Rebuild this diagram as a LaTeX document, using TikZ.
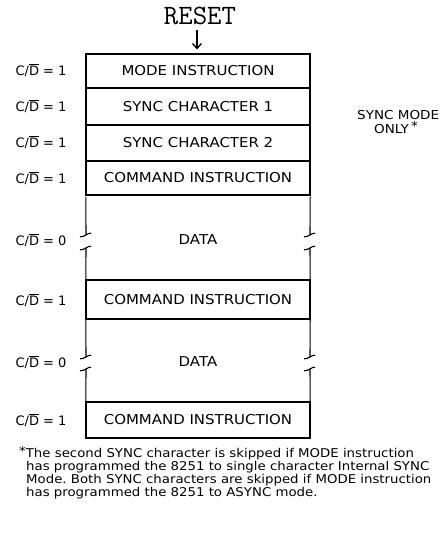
\documentclass[tikz,border=0pt]{standalone}
\usepackage{fontspec}
\setmainfont{DejaVu Sans}
\setsansfont{DejaVu Sans}
\newfontfamily\notefont{DejaVu Sans}[FakeStretch=1.1]
\newfontfamily\boxfont{DejaVu Sans}[FakeStretch=1.1]
\usetikzlibrary{arrows.meta}
\frenchspacing
\tikzset{
  rowbox/.style={draw, line width=1.1pt, minimum width=224pt, inner sep=0pt, font=\boxfont\fontsize{13.6}{14}\selectfont},
  databox/.style={minimum width=224pt, inner sep=0pt, font=\boxfont\fontsize{13.6}{14}\selectfont},
  cdlabel/.style={font=\fontsize{13}{14}\selectfont, inner sep=0pt},
  side/.style={line width=1.1pt},
  note/.style={font=\notefont\fontsize{12.1}{13}\selectfont, inner sep=0pt, anchor=base west},
  sidenote/.style={font=\boxfont\fontsize{12.3}{12}\selectfont, inner sep=0pt},
}
\newcommand\brktick[2]{\draw[side] (#1-6,#2+1.8) .. controls (#1-2,#2+2.5) and (#1+2,#2-2.5) .. (#1+5,#2-1.8);}
\begin{document}
\begin{tikzpicture}[x=1pt,y=-1pt]
\useasboundingbox (0,0) rectangle (442,535);
% RESET
\node[font=\ttfamily\fontsize{28}{30}\selectfont, inner sep=0pt] (reset) at (200,16) {RESET};
% rows
\node[rowbox, minimum height=34pt] (mode) at (198,71) {MODE INSTRUCTION};
\node[rowbox, minimum height=37pt] (s1) at (198,106.5) {SYNC CHARACTER 1};
\node[rowbox, minimum height=36pt] (s2) at (198,143) {SYNC CHARACTER 2};
\node[rowbox, minimum height=34pt] (c1) at (198,178) {COMMAND INSTRUCTION};
\node[databox, minimum height=85pt] (d1) at (198,239.5) {DATA};
\node[rowbox, minimum height=39pt] (c2) at (198,299.5) {COMMAND INSTRUCTION};
\node[databox, minimum height=83pt] (d2) at (198,361.5) {DATA};
\node[rowbox, minimum height=36pt] (c3) at (198,420) {COMMAND INSTRUCTION};
% arrow
\coordinate (atop) at (197,30);
\draw[line width=1.3pt, -{Straight Barb[length=5pt,width=9pt,line width=1.3pt]}] (atop) -- ([xshift=-1pt,yshift=4pt]mode.north);
% data sides with breaks
\draw[side] (d1.north west) -- (86,235);
\draw[side] (86,248) -- (d1.south west);
\draw[side] (d1.north east) -- (310,235);
\draw[side] (310,248) -- (d1.south east);
\brktick{86}{235}\brktick{86}{248}\brktick{310}{235}\brktick{310}{248}
\draw[side] (d2.north west) -- (86,357);
\draw[side] (86,369) -- (d2.south west);
\draw[side] (d2.north east) -- (310,357);
\draw[side] (310,369) -- (d2.south east);
\brktick{86}{357}\brktick{86}{369}\brktick{310}{357}\brktick{310}{369}
% left labels
\node[cdlabel] (l1) at (41,70) {C/$\overline{\hbox{D}}$ = 1};
\node[cdlabel] (l2) at (41,106) {C/$\overline{\hbox{D}}$ = 1};
\node[cdlabel] (l3) at (41,142) {C/$\overline{\hbox{D}}$ = 1};
\node[cdlabel] (l4) at (41,178) {C/$\overline{\hbox{D}}$ = 1};
\node[cdlabel] (l5) at (41,240) {C/$\overline{\hbox{D}}$ = 0};
\node[cdlabel] (l6) at (41,300) {C/$\overline{\hbox{D}}$ = 1};
\node[cdlabel] (l7) at (41,362) {C/$\overline{\hbox{D}}$ = 0};
\node[cdlabel] (l8) at (41,420) {C/$\overline{\hbox{D}}$ = 1};
% sync mode only
\node[sidenote, anchor=west] (smo1) at (357,115) {SYNC MODE};
\node[sidenote] (smo2) at (396,128) {ONLY\,\raisebox{3pt}{*}};
% footnote
\node[note] (n1) at (19,457) {\raisebox{2pt}{*}The second SYNC character is skipped if MODE instruction};
\node[note] (n2) at (26,470) {has programmed the 8251 to single character Internal SYNC};
\node[note] (n3) at (26,483) {Mode. Both SYNC characters are skipped if MODE instruction};
\node[note] (n4) at (26,496) {has programmed the 8251 to ASYNC mode.};
\end{tikzpicture}
\end{document}
